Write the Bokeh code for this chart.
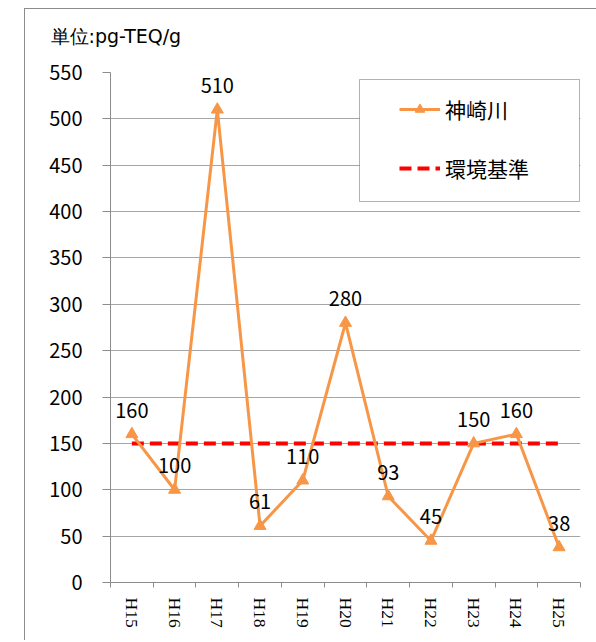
from bokeh.plotting import figure
from bokeh.models import (Range1d, FixedTicker, BoxAnnotation, Legend,
                          LegendItem, ColumnDataSource, Title)
from bokeh.core.properties import value
from bokeh.embed import file_html
from bokeh.resources import INLINE

# ---- data ----
years = ["H15", "H16", "H17", "H18", "H19", "H20", "H21", "H22", "H23", "H24", "H25"]
kanzaki = [160, 100, 510, 61, 110, 280, 93, 45, 150, 160, 38]
standard = [150, 150, 150, 150, 150, 150, 150, 150, 150, 150, 150]
y_ticks = [0, 50, 100, 150, 200, 250, 300, 350, 400, 450, 500, 550]
unit_label = "単位:pg-TEQ/g"
series_name = "神崎川"
standard_name = "環境基準"

SANS = "Noto Sans CJK JP"
WIDE = "DejaVu Sans"
SERIF = "Liberation Serif"
ORANGE = "#F79646"
RED = "#FF0000"
GRID = "#a6a6a6"
AXIS = "#8c8c8c"

xs = [i + 0.5 for i in range(len(years))]
src = ColumnDataSource(dict(x=xs, y=kanzaki, label=[str(v) for v in kanzaki]))
std_src = ColumnDataSource(dict(x=xs, y=standard))

p = figure(width=596, height=640,
           x_range=Range1d(0, len(years)), y_range=Range1d(0, 550),
           output_backend="svg", toolbar_location=None,
           min_border_left=110, min_border_right=16,
           min_border_top=71, min_border_bottom=58)
p.outline_line_color = None
p.background_fill_color = "white"
p.border_fill_alpha = 0
# outer chart border (left/top visible) drawn behind the transparent canvas border area
p.styles = {
    "background": ("linear-gradient(#8c8c8c,#8c8c8c) 24px 8px / 1px 100% no-repeat, "
                   "linear-gradient(#8c8c8c,#8c8c8c) 24px 8px / 100% 1px no-repeat, white"),
}

# title
p.title = Title(text=unit_label, align="left", offset=-60, standoff=48,
                vertical_align="top",
                text_font=WIDE, text_font_size="19px", text_font_style="normal",
                text_color="black")

# grid
p.xgrid.visible = False
p.ygrid.ticker = FixedTicker(ticks=y_ticks)
p.ygrid.grid_line_color = GRID
p.ygrid.grid_line_width = 1

# y axis
p.yaxis.ticker = FixedTicker(ticks=y_ticks)
p.yaxis.axis_line_color = AXIS
p.yaxis.major_tick_line_color = AXIS
p.yaxis.major_tick_out = 8
p.yaxis.major_tick_in = 0
p.yaxis.minor_tick_line_color = None
p.yaxis.major_label_standoff = 20
p.yaxis.major_label_text_font = SANS
p.yaxis.major_label_text_font_size = "20px"
p.yaxis.major_label_text_color = "black"

# x axis
p.xaxis.ticker = FixedTicker(ticks=xs, minor_ticks=list(range(len(years) + 1)))
p.xaxis.major_label_overrides = {x: lab for x, lab in zip(xs, years)}
p.xaxis.axis_line_color = AXIS
p.xaxis.major_tick_line_color = None
p.xaxis.major_tick_out = 0
p.xaxis.major_tick_in = 0
p.xaxis.minor_tick_line_color = AXIS
p.xaxis.minor_tick_out = 5
p.xaxis.minor_tick_in = 0
p.xaxis.major_label_orientation = "vertical"
p.xaxis.major_label_standoff = 10
p.xaxis.major_label_text_font = SERIF
p.xaxis.major_label_text_font_size = "17.5px"
p.xaxis.major_label_text_color = "black"

# series
std_r = p.line("x", "y", source=std_src, line_color=RED, line_width=4, line_dash="12 6")
line_r = p.line("x", "y", source=src, line_color=ORANGE, line_width=3)
scat_r = p.scatter("x", "y", source=src, marker="triangle", size=12,
                   fill_color=ORANGE, line_color=ORANGE)
p.text("x", "y", text="label", source=src, text_align="center",
       text_baseline="alphabetic", y_offset=-24,
       text_font=value(SANS), text_font_size="20px", text_color="black")

# legend box
p.add_layout(BoxAnnotation(left=249, right=469, bottom=381, top=503,
                           left_units="screen", right_units="screen",
                           top_units="screen", bottom_units="screen",
                           fill_color="white", fill_alpha=1,
                           line_color="black", line_width=1))
legend = Legend(items=[LegendItem(label=series_name, renderers=[line_r, scat_r]),
                       LegendItem(label=standard_name, renderers=[std_r])],
                location=(289, 399), glyph_width=41, glyph_height=24,
                label_height=24, label_standoff=5, spacing=29, padding=0,
                margin=0, border_line_color=None, background_fill_alpha=0,
                label_text_font=SANS, label_text_font_size="21px",
                label_text_color="black")
p.add_layout(legend)

open("out.html", "w").write(file_html(p, INLINE))
